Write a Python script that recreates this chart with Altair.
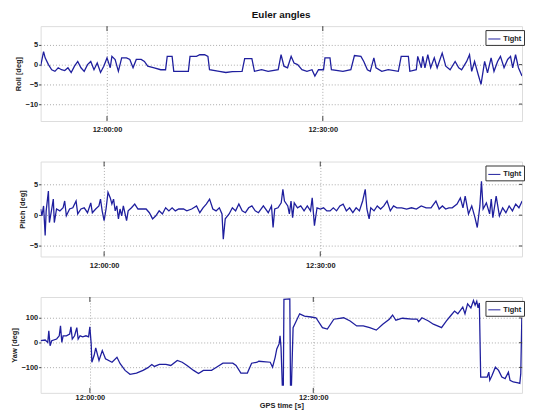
import altair as alt
import pandas as pd

# ---------------- data (minutes relative to 12:00:00 GPS time) ----------------
ROLL_T = [-9.23, -8.82, -8.60, -8.14, -7.69, -7.24, -6.79, -6.33, -5.88, -5.43, -4.98, -4.52, -4.07, -3.62,
          -3.17, -2.71, -2.26, -1.81, -1.36, -0.90, -0.45, 0.00, 0.45, 0.68, 1.13, 1.58, 2.04, 2.71, 3.17,
          3.62, 4.07, 4.75, 5.20, 5.66, 6.56, 7.47, 8.14, 8.37, 9.05, 9.28, 11.31, 11.54, 12.44, 12.90, 13.57,
          14.03, 14.25, 15.61, 16.52, 17.42, 18.78, 19.14, 20.14, 20.50, 21.49, 22.40, 23.8, 24.2, 24.6, 25.1,
          25.6, 26.0, 26.5, 27.1, 27.8, 28.5, 28.9, 29.4, 30.1, 30.3, 31.0, 31.2, 32.8, 33.9, 34.4, 35.3,
          35.7, 36.2, 36.6, 37.1, 37.4, 38.2, 39.1, 40.5, 40.9, 41.9, 42.1, 43.0, 43.2, 43.7, 43.9, 44.2,
          44.6, 45.0, 45.5, 45.9, 46.6, 47.1, 47.7, 48.4, 48.9, 49.3, 50.0, 50.4, 50.7, 51.1, 51.6, 52.0,
          52.5, 52.9, 53.4, 53.8, 54.3, 54.7, 55.2, 55.7, 56.1, 56.4, 56.8, 57.2, 57.7]
ROLL_V = [-0.4, 3.3, 1.7, 0.0, -1.3, -1.7, -0.8, -1.3, -1.5, -0.8, -2.0, -0.4, 0.8, -0.8,
          -1.7, 0.0, 0.8, -1.3, 0.4, -2.0, -0.4, 1.7, -0.8, 2.1, 1.3, -1.7, 1.7, 1.7, 1.3,
          -0.8, 1.3, 1.3, 0.8, -0.4, -0.8, -1.3, -1.3, 2.1, 2.1, -1.7, -1.7, 2.1, 2.1, 2.5, 2.5,
          2.1, -1.3, -1.7, -2.0, -1.8, -1.7, 1.5, 1.5, -1.7, -1.3, -1.7, -1.3, 2.5, -0.4, -0.8,
          2.1, 0.4, 0.0, -1.3, -1.7, -1.3, -2.9, -1.3, -1.3, 1.7, 1.7, -1.3, -1.7, -1.3, 2.3, 2.1,
          0.8, -1.3, -1.7, 1.7, -0.8, -1.7, -1.3, -1.7, 2.1, 2.1, -1.7, -1.3, 2.1, -0.8, 2.1, -0.8,
          2.5, -0.8, 1.7, -0.8, 2.9, -0.4, -1.3, 0.8, -0.8, -1.3, 0.8, 2.5, -1.7, 0.8, -2.5, -5.0,
          0.8, -2.1, 1.7, -1.7, 0.8, 2.1, -0.8, 1.3, 2.1, -0.8, 2.5, -0.8, -2.9]

PITCH_T = [-8.81, -8.63, -8.40, -8.18, -8.04, -7.73, -7.59, -7.27, -7.05, -6.91, -6.60, -6.14, -5.69, -5.47,
           -5.24, -4.79, -4.34, -3.89, -3.66, -3.21, -2.76, -2.30, -1.85, -1.63, -1.17, -0.72, -0.50, -0.27,
           0.00, 0.27, 0.54, 0.86, 1.08, 1.31, 1.54, 1.76, 1.99, 2.21, 2.44, 2.67, 3.12, 3.34, 3.80, 4.25,
           4.70, 5.15, 5.83, 6.28, 6.73, 7.18, 7.64, 8.09, 8.54, 8.99, 9.44, 9.89, 10.35, 11.02, 11.48, 12.15,
           12.83, 13.28, 13.73, 14.18, 14.64, 15.09, 15.54, 15.99, 16.36, 16.54, 16.81, 17.35, 17.80, 18.25,
           18.70, 19.16, 19.61, 20.06, 20.51, 20.97, 21.42, 22.10, 22.78, 23.23, 23.45, 23.68, 24.13, 24.58,
           24.81, 25.03, 25.49, 25.71, 25.94, 26.16, 26.39, 26.84, 27.29, 27.75, 28.20, 28.65, 28.88, 29.19,
           29.55, 30.01, 30.46, 30.91, 31.36, 31.81, 32.26, 32.72, 33.17, 33.62, 34.07, 34.52, 34.98, 35.43,
           35.88, 36.24, 36.47, 36.78, 37.01, 37.46, 37.91, 38.37, 38.82, 39.27, 39.72, 40.17, 40.62, 41.30,
           41.98, 42.66, 43.34, 44.01, 44.69, 45.37, 46.05, 46.50, 46.95, 47.40, 47.85, 48.31, 48.98, 49.44,
           49.80, 50.11, 50.57, 51.02, 51.47, 51.79, 52.15, 52.37, 52.60, 53.05, 53.50, 53.73, 53.95, 54.41,
           54.86, 55.31, 55.76, 56.21, 56.67, 57.12, 57.57, 58.02]
PITCH_V = [1.0, -0.1, 1.5, -3.3, 0.7, 3.9, -1.2, 1.0, 2.6, -1.2, 1.0, 0.7, 1.2, 2.3,
           -0.1, 1.0, 1.2, 2.3, 0.2, 1.0, 1.2, 0.4, 2.0, 0.4, 1.0, 1.5, 2.6, 0.7,
           -0.9, 1.0, 3.7, 2.8, 1.8, 2.6, 0.7, 1.5, -0.6, 1.0, -0.1, 1.5, -0.9, 0.7, 1.2, 1.8,
           1.0, 1.0, 1.0, 0.4, -0.6, -0.1, 0.7, 0.2, 1.2, 0.7, 1.2, 0.7, 1.0, 1.0, 0.7, 1.0,
           1.5, 0.4, 1.2, 1.8, 2.6, 1.0, 0.7, 1.2, 0.2, -3.9, -0.6, 0.2, 1.2, 0.7,
           1.8, 0.7, 0.4, 1.2, 1.5, 0.7, 0.4, 1.5, 0.4, 1.5, -2.0, 1.0, 1.2, 2.0,
           4.2, 2.3, 1.5, 0.2, 2.3, -0.4, 2.0, 1.2, 1.5, 0.7, 1.5, 0.7, 2.8, -1.7,
           1.2, 1.0, 1.2, 0.7, 0.7, 1.2, 0.7, 1.5, 1.8, 0.7, 1.2, 0.4, 1.2, 0.7,
           2.3, 4.2, 1.0, -0.6, 1.2, 0.7, 1.5, 1.0, 1.5, 2.3, 0.7, 1.5, 1.2, 1.2,
           1.0, 1.2, 1.0, 1.5, 1.2, 1.2, 2.3, 1.0, 1.5, 1.0, 1.2, 1.2, 1.8, 2.8,
           1.2, 3.1, 0.2, 1.5, -0.4, -2.0, 1.5, 5.5, 1.0, 2.0, 0.2, 2.6, -0.4, 3.1,
           -0.1, 1.2, 0.4, 1.5, 0.7, 1.8, 1.2, 2.3]

YAW_T = [-6.61, -6.00, -5.65, -5.51, -5.34, -5.12, -4.46, -4.11, -3.94, -3.76, -3.59, -3.15, -2.71, -2.54,
         -2.36, -2.05, -1.75, -1.57, -1.31, -0.96, -0.52, -0.17, 0.00, 0.18, 0.27, 0.57, 0.79, 1.23, 1.67,
         2.10, 2.98, 3.64, 4.07, 4.73, 5.39, 6.26, 7.14, 7.80, 8.32, 8.67, 9.33, 10.21, 10.87, 11.74, 12.40,
         13.05, 13.93, 14.59, 15.24, 16.34, 17.00, 17.87, 19.19, 19.63, 20.28, 21.15, 21.72, 22.47, 22.69,
         24.22, 24.53, 24.88, 25.10, 25.41, 25.54, 25.67, 25.84, 25.98, 26.06, 26.85, 26.94, 27.07, 27.29,
         27.51, 28.17, 28.82, 29.70, 30.36, 31.23, 31.89, 32.76, 34.08, 34.95, 35.83, 36.71, 37.58, 38.46,
         39.33, 40.21, 40.65, 41.09, 41.96, 43.28, 43.93, 44.15, 44.59, 45.47, 46.12, 47.00, 47.22, 47.88,
         48.53, 48.97, 49.41, 50.07, 50.37, 50.72, 51.16, 51.51, 51.73, 51.95, 52.12, 52.30, 52.48, 52.91,
         53.35, 53.57, 53.70, 54.01, 54.45, 54.88, 55.32, 55.76, 56.20, 56.42, 56.85, 57.51, 57.73, 57.86,
         58.00]
YAW_V = [8, 11, 1, 48, -12, 8, 15, 28, 68, 1, 28, 28, 35, 64,
         15, 28, 61, 15, 28, 24, 28, 24, 64, -5, -79, -52, -21, -72, -32,
         -65, -79, -59, -85, -112, -128, -123, -112, -101, -88, -96, -88, -88, -92, -72, -79,
         -92, -112, -125, -112, -112, -99, -83, -83, -92, -123, -123, -83, -79, -75,
         -79, -99, -59, -25, -5, 28, -19, -172, -172, 175, 177, -172, -172, 61,
         75, 117, 108, 104, 101, 61, 55, 95, 101, 88, 68, 68, 61, 51,
         75, 95, 112, 91, 99, 95, 95, 85, 101, 88, 75, 64, 61, 88,
         112, 128, 117, 144, 117, 157, 141, 171, 152, 168, 141, 161, -139, -139,
         -139, -119, -152, -132, -99, -112, -139, -145, -119, -152, -159, -163, -165, -125,
         100]

SERIES = "Tight"
XTICK_VALUES = [0, 30]
XTICK_LABELS = ["12:00:00", "12:30:00"]

BLUE = "#1f1f9e"
FONT = "Liberation Sans"
W = 487
H = 96

label_expr = " : ".join(
    f"datum.value == {v} ? '{l}'" for v, l in zip(XTICK_VALUES, XTICK_LABELS)
) + " : ''"


def panel(t, v, xdom, ydom, yticks, ytitle, xtitle=None, xlabel_pad=5, height=H):
    df = pd.DataFrame({"t": t, "v": v, "s": SERIES})
    xaxis_kw = dict(values=XTICK_VALUES, labelExpr=label_expr, labelPadding=xlabel_pad,
                    tickSize=0, tickCount=10, grid=True, gridDash=[1, 2], gridColor="#aaaaaa",
                    labelFont=FONT, labelFontSize=7.5, labelFontWeight="bold", labelColor="#222",
                    domain=False, labelOverlap=False)
    if xtitle:
        xaxis_kw.update(title=xtitle, titleFont=FONT, titleFontSize=7.5, titleFontWeight="bold",
                        titlePadding=0, titleColor="#222")
    else:
        xaxis_kw.update(title=None)
    x = alt.X("t:Q", scale=alt.Scale(domain=xdom, nice=False, zero=False), axis=alt.Axis(**xaxis_kw))
    y = alt.Y("v:Q", scale=alt.Scale(domain=ydom, nice=False, zero=False),
              axis=alt.Axis(values=yticks, tickCount=10, title=ytitle, tickSize=2, tickColor="#444",
                            labelPadding=1, labelFont=FONT, labelFontSize=7.5, labelFontWeight="bold",
                            labelColor="#222", titleFont=FONT, titleFontSize=7.5, labelOverlap=False,
                            titleFontWeight="bold", titleColor="#222", titlePadding=3,
                            grid=True, gridDash=[1, 2], gridColor="#aaaaaa", domain=False))
    line = alt.Chart(df).mark_line(strokeWidth=1.3, clip=True).encode(
        x=x, y=y,
        color=alt.Color("s:N", scale=alt.Scale(range=[BLUE]),
                        legend=alt.Legend(title=None, orient="none", legendX=W - 37, legendY=4,
                                          symbolType="stroke", symbolStrokeWidth=1, symbolSize=150,
                                          strokeColor="#333", fillColor="white", padding=2,
                                          labelFont=FONT, labelFontSize=7.5, labelFontWeight="bold",
                                          labelColor="#222", labelOffset=2)),
    )
    yt = pd.DataFrame({"v": yticks})
    xt = pd.DataFrame({"t": XTICK_VALUES})
    ry = alt.Chart(yt).mark_rule(color="#444", strokeWidth=1).encode(
        y="v:Q", x=alt.value(W - 3), x2=alt.value(W))
    rx_top = alt.Chart(xt).mark_rule(color="#444", strokeWidth=1).encode(
        x="t:Q", y=alt.value(0), y2=alt.value(5))
    rx_bot = alt.Chart(xt).mark_rule(color="#444", strokeWidth=1).encode(
        x="t:Q", y=alt.value(height - 5), y2=alt.value(height))
    return alt.layer(line, ry, rx_top, rx_bot).properties(width=W, height=height)


p1 = panel(ROLL_T, ROLL_V, [-9.23, 57.7], [-14.3, 9.75], [-10, -5, 0, 5], "Roll [deg]")
p2 = panel(PITCH_T, PITCH_V, [-8.81, 58.0], [-6.7, 8.7], [-5, 0, 5], "Pitch [deg]")
p3 = panel(YAW_T, YAW_V, [-6.61, 58.03], [-203, 185], [-100, 0, 100], "Yaw [deg]",
           xtitle="GPS time [s]", xlabel_pad=1, height=97)

chart = alt.vconcat(p1, p2, p3, spacing=27).resolve_scale(color="independent").resolve_legend(
    color="independent"
).properties(
    title=alt.TitleParams("Euler angles", font=FONT, fontSize=10, fontWeight="bold", anchor="middle",
                          color="#111", offset=5, dx=14),
    padding={"left": 1, "top": 0, "right": 0, "bottom": 0},
).configure_view(stroke="#555", strokeWidth=1.2).configure(background="white")

chart.save("out.html", embed_options={"renderer": "svg", "actions": False})
